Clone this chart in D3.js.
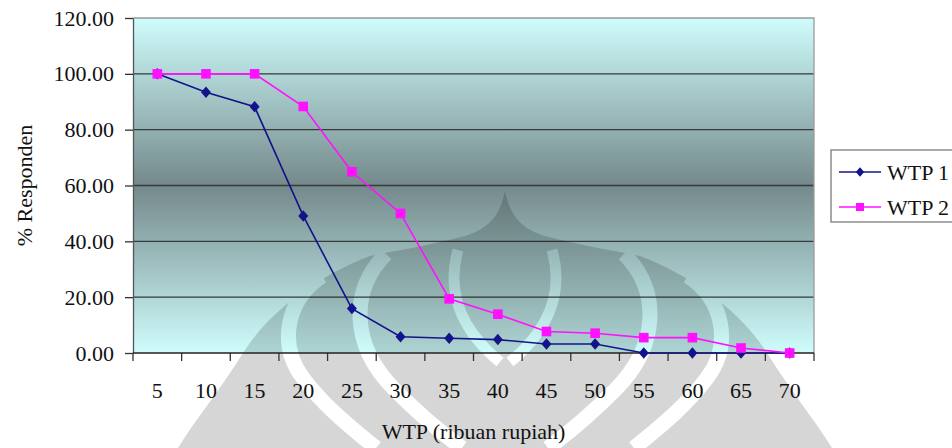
<!DOCTYPE html>
<html>
<head>
<meta charset="utf-8">
<script src="https://cdn.jsdelivr.net/npm/d3@7"></script>
<style>
  html, body { margin: 0; padding: 0; background: #fff; overflow: hidden; }
</style>
</head>
<body>
<svg id="chart" width="952" height="448"></svg>
<script>
// WTP bid levels (thousand rupiah) and share of respondents willing to pay
const categories = ["5", "10", "15", "20", "25", "30", "35", "40", "45", "50", "55", "60", "65", "70"];
const wtp1 = [100, 93.4, 88.2, 49.1, 15.9, 5.8, 5.3, 4.8, 3.2, 3.2, 0, 0, 0, 0];
const wtp2 = [100, 100, 100, 88.3, 64.9, 50.0, 19.4, 13.9, 7.7, 7.1, 5.5, 5.5, 1.8, 0];
const yTicks = [0, 20, 40, 60, 80, 100, 120];
const seriesNames = ["WTP 1", "WTP 2"];
const xTitle = "WTP (ribuan rupiah)";
const yTitle = "% Responden";

const FONT = "Liberation Serif";

const svg = d3.select("#chart");
const plot = { left: 133, right: 814, top: 18, bottom: 353 };

const x = d3.scaleBand().domain(categories).range([plot.left, plot.right]);
const y = d3.scaleLinear().domain([0, 120]).range([plot.bottom, plot.top]);
const cx = c => x(c) + x.bandwidth() / 2;

const defs = svg.append("defs");

// plot area fill: light cyan at the edges, dark slate in the middle
const grad = defs.append("linearGradient")
  .attr("id", "plotFill").attr("x1", 0).attr("y1", 0).attr("x2", 0).attr("y2", 1);
grad.append("stop").attr("offset", 0).attr("stop-color", "#cffdfc");
grad.append("stop").attr("offset", 0.5).attr("stop-color", "#74898b");
grad.append("stop").attr("offset", 1).attr("stop-color", "#cffdfc");

svg.append("rect")
  .attr("x", plot.left).attr("y", plot.top)
  .attr("width", plot.right - plot.left).attr("height", plot.bottom - plot.top)
  .attr("fill", "url(#plotFill)");

// horizontal gridlines
svg.append("g").selectAll("line")
  .data(yTicks.filter(v => v > 0 && v < 120))
  .join("line")
  .attr("x1", plot.left).attr("x2", plot.right)
  .attr("y1", d => y(d)).attr("y2", d => y(d))
  .attr("stroke", "#353a3a").attr("stroke-width", 1.3);

// plot frame (top and right)
svg.append("path")
  .attr("d", `M${plot.left},${y(120)}H${plot.right}V${plot.bottom}`)
  .attr("fill", "none").attr("stroke", "#9a9a9a").attr("stroke-width", 1.3);

// page emblem, drawn as a faint grey shape with light bands cut out
const mirror = p => p.replace(/(-?\d+(\.\d+)?),(-?\d+(\.\d+)?)/g, (m, a, b1, b) => `${1010 - +a},${b}`);
const silhouette =
  "M505,191 C510,215 520,228 545,236 C580,245 610,250 640,256 " +
  "C690,275 740,310 767,353 C790,390 815,420 832,448 L178,448 " +
  "C195,420 220,390 243,353 C270,310 320,275 370,256 C400,250 430,245 465,236 " +
  "C490,228 500,215 505,191 Z";
const bandsLeft = [
  "M386,254 C350,290 350,345 395,390 C420,415 440,432 462,448",
  "M322,276 C286,300 278,345 303,378 C323,405 348,425 376,448",
  "M458,250 C448,285 455,325 500,362"
];
const mask = defs.append("mask").attr("id", "emblemMask");
mask.append("path").attr("d", silhouette).attr("fill", "#fff");
mask.selectAll("path.band")
  .data(bandsLeft.concat(bandsLeft.map(mirror)))
  .join("path").attr("class", "band")
  .attr("d", d => d)
  .attr("fill", "none").attr("stroke", "#000")
  .attr("stroke-width", (d, i) => (i % 3 === 2 ? 11 : 15));

svg.append("rect")
  .attr("x", 0).attr("y", 0).attr("width", 952).attr("height", 448)
  .attr("fill", "#000").attr("fill-opacity", 0.16)
  .attr("mask", "url(#emblemMask)");

// y axis
const yAxis = svg.append("g")
  .attr("transform", `translate(${plot.left},0)`)
  .call(d3.axisLeft(y).tickValues(yTicks).tickFormat(d3.format(".2f"))
    .tickSize(8).tickSizeOuter(0).tickPadding(11));
yAxis.attr("font-family", FONT).attr("font-size", 22);
yAxis.select(".domain").attr("stroke", "#555").attr("stroke-width", 1.3);
yAxis.selectAll(".tick line").attr("stroke", "#333").attr("stroke-width", 1.3);
yAxis.selectAll(".tick text")
  .attr("font-family", FONT).attr("font-size", 22).attr("fill", "#111");

// x axis: labels at category centres, tick marks at category boundaries
const xAxis = svg.append("g")
  .attr("transform", `translate(0,${plot.bottom})`)
  .call(d3.axisBottom(x).tickSize(0).tickPadding(29).tickSizeOuter(0));
xAxis.attr("font-family", FONT).attr("font-size", 22);
xAxis.select(".domain").remove();
xAxis.selectAll(".tick text")
  .attr("font-family", FONT).attr("font-size", 22).attr("fill", "#111");

const bounds = categories.map(c => x(c)).concat([x.range()[1]]);
svg.append("g").selectAll("line")
  .data(bounds)
  .join("line")
  .attr("x1", d => d).attr("x2", d => d)
  .attr("y1", plot.bottom).attr("y2", plot.bottom + 8)
  .attr("stroke", "#333").attr("stroke-width", 1.3);
svg.append("line")
  .attr("x1", plot.left).attr("x2", plot.right)
  .attr("y1", plot.bottom).attr("y2", plot.bottom)
  .attr("stroke", "#222").attr("stroke-width", 1.5);

// axis titles
svg.append("text")
  .attr("x", (plot.left + plot.right) / 2).attr("y", 439)
  .attr("text-anchor", "middle").attr("font-size", 22).attr("font-family", FONT)
  .attr("fill", "#111")
  .text(xTitle);
svg.append("text")
  .attr("transform", `translate(32,${(plot.top + plot.bottom) / 2}) rotate(-90)`)
  .attr("text-anchor", "middle").attr("font-size", 22).attr("font-family", FONT)
  .attr("fill", "#111")
  .text(yTitle);

// markers
const diamond = (s) => `M0,${-s * 1.15}L${s},0L0,${s * 1.15}L${-s},0Z`;
const square = (s) => `M${-s},${-s}H${s}V${s}H${-s}Z`;

const series = [
  { name: seriesNames[0], values: wtp1, color: "#14148a", marker: "diamond" },
  { name: seriesNames[1], values: wtp2, color: "#ff10ff", marker: "square" }
];

const line = d3.line().x(d => cx(d.c)).y(d => y(d.v));

series.forEach(s => {
  const pts = categories.map((c, i) => ({ c, v: s.values[i] }));
  const g = svg.append("g");
  g.append("path").datum(pts)
    .attr("d", line).attr("fill", "none")
    .attr("stroke", s.color).attr("stroke-width", 1.6);
  g.selectAll("path.m").data(pts).join("path").attr("class", "m")
    .attr("transform", d => `translate(${cx(d.c)},${y(d.v)})`)
    .attr("d", s.marker === "diamond" ? diamond(5) : square(4.8))
    .attr("fill", s.color);
});

// legend
const lg = svg.append("g");
lg.append("rect")
  .attr("x", 831).attr("y", 150).attr("width", 200).attr("height", 72)
  .attr("fill", "#fff").attr("stroke", "#7a7a7a").attr("stroke-width", 1.3);
series.forEach((s, i) => {
  const ly = 172 + i * 35;
  lg.append("line").attr("x1", 839).attr("x2", 881).attr("y1", ly).attr("y2", ly)
    .attr("stroke", s.color).attr("stroke-width", 1.6);
  lg.append("path").attr("transform", `translate(860,${ly})`)
    .attr("d", s.marker === "diamond" ? diamond(4.2) : square(4))
    .attr("fill", s.color);
  lg.append("text").attr("x", 887).attr("y", ly + 7.5)
    .attr("font-size", 22).attr("font-family", FONT).attr("fill", "#111")
    .text(s.name);
});
</script>
</body>
</html>
